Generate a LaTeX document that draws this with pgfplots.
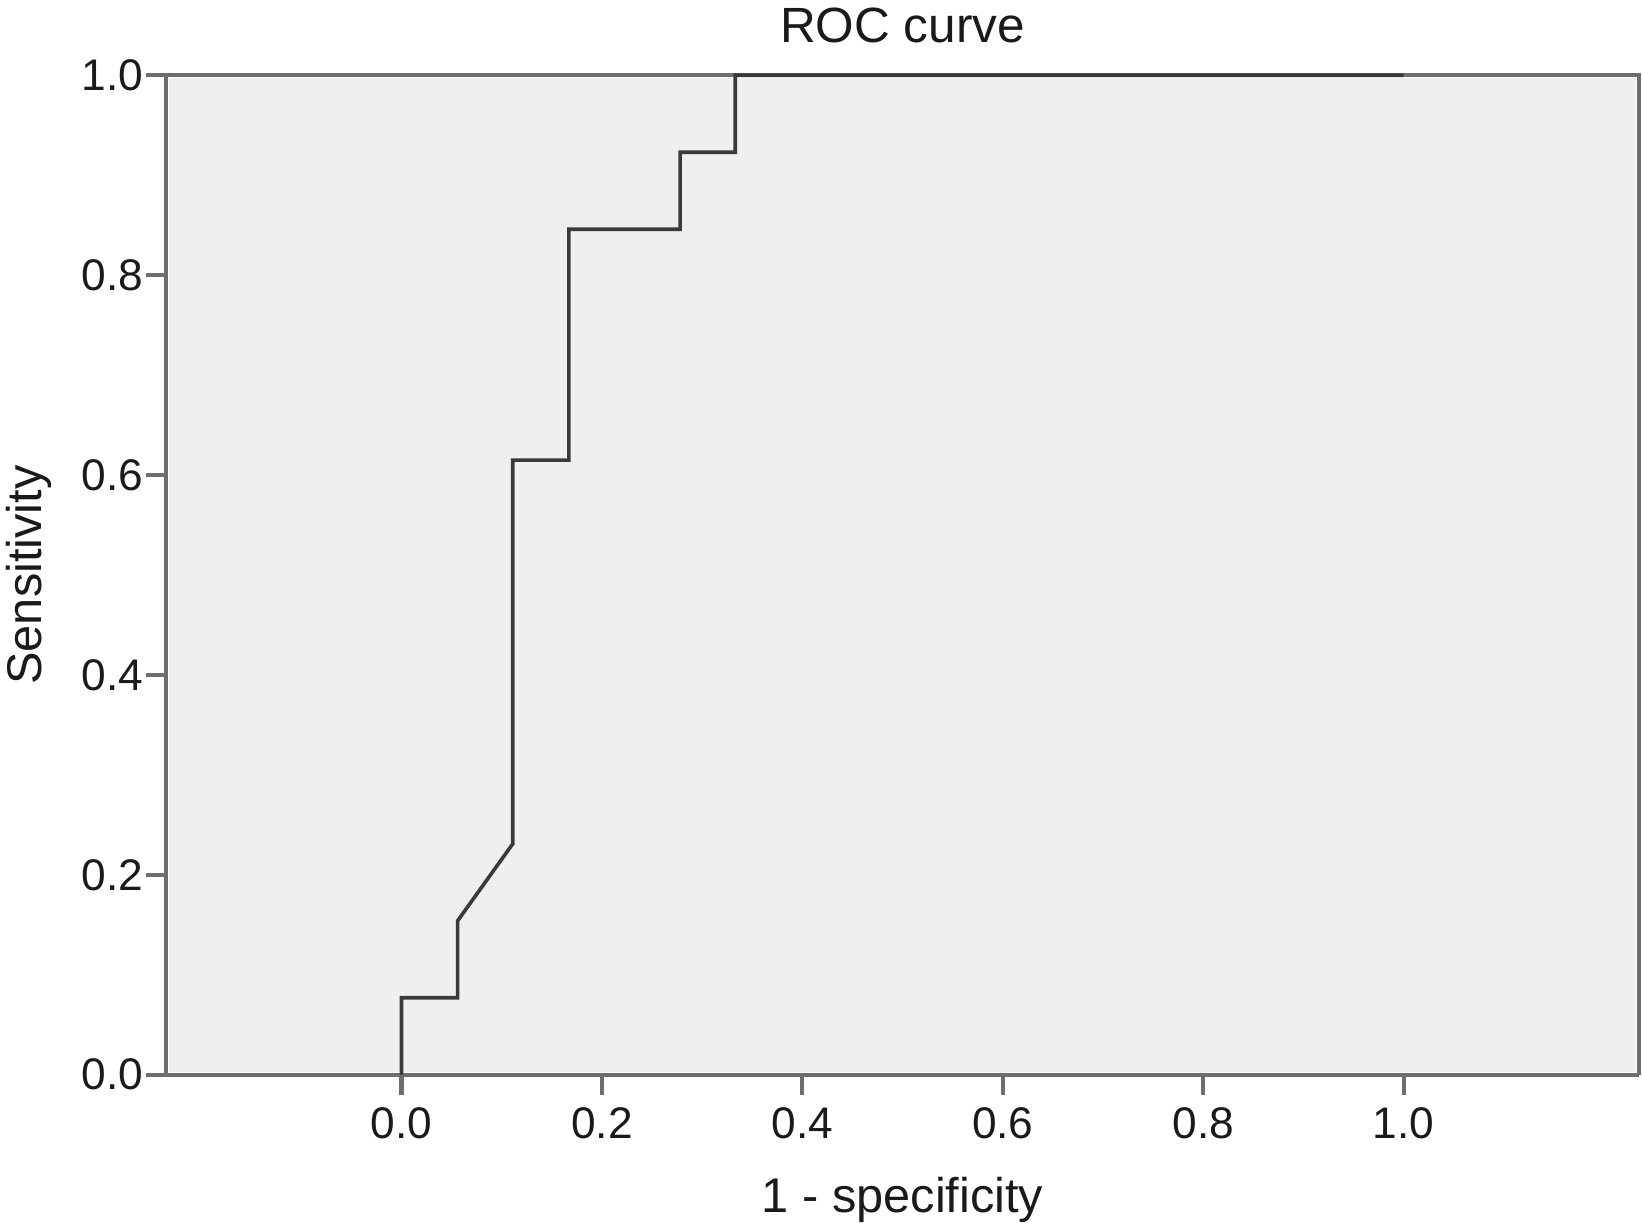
\documentclass[border=0pt]{standalone}
\usepackage{pgfplots}
\pgfplotsset{compat=1.18}
\usepackage{fontspec}
\setmainfont{Liberation Sans}
\definecolor{bgc}{HTML}{EFEFEF}
\definecolor{framec}{HTML}{6E6E6E}
\definecolor{curvec}{HTML}{3A3A3A}
\definecolor{textc}{HTML}{1A1A1A}
\begin{document}
\begin{tikzpicture}
\begin{axis}[
  scale only axis,
  width=366pt, height=248.3pt,
  xmin=-0.235, xmax=1.235, ymin=0, ymax=1,
  xtick={0,0.2,0.4,0.6,0.8,1.0},
  ytick={0,0.2,0.4,0.6,0.8,1.0},
  xticklabels={0.0,0.2,0.4,0.6,0.8,1.0},
  yticklabels={0.0,0.2,0.4,0.6,0.8,1.0},
  axis x line*=bottom, axis y line*=left,
  tick align=outside,
  major tick length=5pt,
  tick style={framec, line width=1pt},
  axis line style={framec, line width=1pt},
  axis background/.style={fill=bgc, draw=white, line width=1.4pt},
  ticklabel style={font=\fontsize{11}{13}\selectfont, text=textc},
  /pgf/number format/assume math mode=true,
  xticklabel style={yshift=0.3pt},
  yticklabel style={xshift=2.9pt},
  title={ROC curve},
  title style={font=\fontsize{12.3}{14}\selectfont, text=textc, inner xsep=0pt, inner ysep=2pt, yshift=-0.2pt},
  xlabel={1 - specificity},
  ylabel={Sensitivity},
  xlabel style={font=\fontsize{12.1}{14}\selectfont, text=textc, inner sep=0pt, yshift=-6pt},
  ylabel style={font=\fontsize{12.1}{14}\selectfont, text=textc, inner sep=1.5pt, yshift=2.5pt},
  clip=false,
]
% top and right frame lines
\draw[framec, line width=1pt] (rel axis cs:0,1) -- (rel axis cs:1,1) -- (rel axis cs:1,0);
\addplot[curvec, line width=0.9pt] coordinates {
  (0,0) (0,0.077) (0.056,0.077) (0.056,0.154) (0.111,0.231) (0.111,0.615)
  (0.167,0.615) (0.167,0.846) (0.278,0.846) (0.278,0.923) (0.333,0.923)
  (0.333,1) (1,1)
};
\end{axis}
\end{tikzpicture}
\end{document}
